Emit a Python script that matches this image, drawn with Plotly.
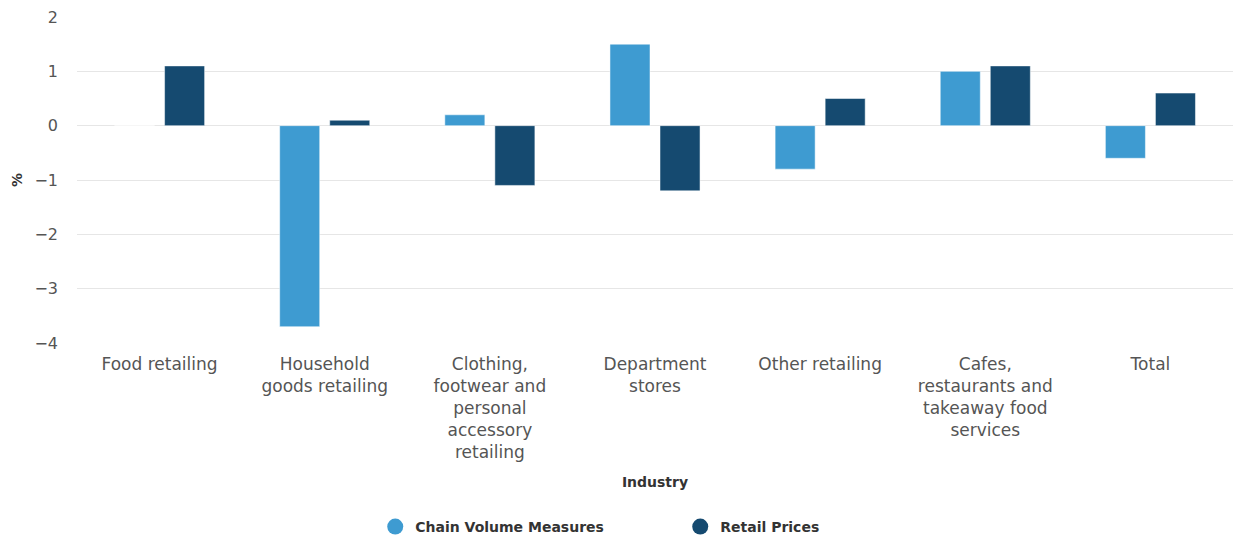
import plotly.graph_objects as go

categories = [
    "Food retailing",
    "Household<br>goods retailing",
    "Clothing,<br>footwear and<br>personal<br>accessory<br>retailing",
    "Department<br>stores",
    "Other retailing",
    "Cafes,<br>restaurants and<br>takeaway food<br>services",
    "Total",
]
chain_volume = [0.0, -3.7, 0.2, 1.5, -0.8, 1.0, -0.6]
retail_prices = [1.1, 0.1, -1.1, -1.2, 0.5, 1.1, 0.6]
y_ticks = [2, 1, 0, -1, -2, -3, -4]
y_tick_text = ["2", "1", "0", "\u22121", "\u22122", "\u22123", "\u22124"]

c_light = "#3e9bd1"
c_dark = "#154a70"

fig = go.Figure()
fig.add_trace(go.Bar(x=categories, y=chain_volume, name="Chain Volume Measures",
                     marker=dict(color=c_light, line=dict(color="white", width=0.5)),
                     showlegend=False))
fig.add_trace(go.Bar(x=categories, y=retail_prices, name="Retail Prices",
                     marker=dict(color=c_dark, line=dict(color="white", width=0.5)),
                     showlegend=False))
# legend entries with circular symbols
fig.add_trace(go.Scatter(x=[None], y=[None], mode="markers", name="Chain Volume Measures",
                         marker=dict(color=c_light, size=20, symbol="circle")))
fig.add_trace(go.Scatter(x=[None], y=[None], mode="markers", name="Retail Prices",
                         marker=dict(color=c_dark, size=20, symbol="circle")))

fig.update_layout(
    width=1235, height=539,
    margin=dict(l=77, r=2, t=17, b=196, autoexpand=False),
    paper_bgcolor="white", plot_bgcolor="white",
    barmode="group", bargap=0.394, bargroupgap=0.2,
    font=dict(family="DejaVu Sans", color="#555555"),
    showlegend=True,
    legend=dict(orientation="h", x=0.258, xanchor="left",
                yref="container", y=0.0223, yanchor="middle",
                font=dict(family="DejaVu Sans", size=14, color="#333333", weight="bold"),
                entrywidth=260, entrywidthmode="pixels", itemsizing="trace"),
)
fig.update_xaxes(
    type="category", showgrid=False, showline=False, ticks="", automargin=False,
    tickfont=dict(family="DejaVu Sans", size=17, color="#555555"),
    ticklabelstandoff=9,
    title=dict(text="Industry", font=dict(family="DejaVu Sans", size=14, color="#333333", weight="bold"),
               standoff=15),
)
fig.update_yaxes(
    range=[-4, 2], tickvals=y_ticks, ticktext=y_tick_text, automargin=False,
    showgrid=True, gridcolor="#e6e6e6", gridwidth=1,
    zeroline=True, zerolinecolor="#e6e6e6", zerolinewidth=1,
    showline=False, ticks="",
    tickfont=dict(family="DejaVu Sans", size=16, color="#555555"),
    ticklabelstandoff=18,
    title=dict(text="%", font=dict(family="DejaVu Sans", size=14, color="#333333", weight="bold"),
               standoff=8),
)

fig.write_html("out.html", config={"displayModeBar": False},
               post_script="document.body.style.margin='0';")
